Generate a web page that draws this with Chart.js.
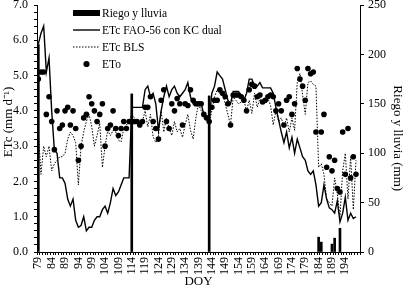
<!DOCTYPE html>
<html>
<head>
<meta charset="utf-8">
<script src="https://cdn.jsdelivr.net/npm/chart.js@4.4.1/dist/chart.umd.min.js"></script>
<style>
  html, body { margin: 0; padding: 0; background: #fff; }
  #wrap { width: 408px; height: 289px; }
</style>
</head>
<body>
<div id="wrap"><canvas id="etChart" width="408" height="289"></canvas></div>
<script>
// day of year for the daily series
const doy = [
  79, 80, 81, 82, 83, 84, 85, 86, 87, 88, 89, 90, 91, 92, 93, 94, 95, 96, 97, 98,
  99, 100, 101, 102, 103, 104, 105, 106, 107, 108, 109, 110, 111, 112, 113, 114, 115, 116, 117, 118,
  119, 120, 121, 122, 123, 124, 125, 126, 127, 128, 129, 130, 131, 132, 133, 134, 135, 136, 137, 138,
  139, 140, 141, 142, 143, 144, 145, 146, 147, 148, 149, 150, 151, 152, 153, 154, 155, 156, 157, 158,
  159, 160, 161, 162, 163, 164, 165, 166, 167, 168, 169, 170, 171, 172, 173, 174, 175, 176, 177, 178,
  179, 180, 181, 182, 183, 184, 185, 186, 187, 188, 189, 190, 191, 192, 193, 194, 195, 196, 197, 198
];

// ETc FAO-56 con KC dual (mm/d)
const etcFao = [
  5.9, 6.2, 6.4, 5.1, 5.5, 4.0, 2.9, 2.8, 2.1, 2.1, 1.95, 1.5, 1.3, 1.5, 0.9, 0.7, 0.75, 1.0, 0.6, 0.7,
  0.7, 0.9, 1.0, 1.0, 1.2, 1.3, 1.1, 1.4, 1.8, 1.6, 1.7, 1.9, 2.1, 2.1, 2.1, 4.1, 4.1, 4.1, 4.1, 4.1,
  4.6, 4.7, 4.4, 4.5, 4.2, 3.45, 4.0, 4.4, 4.7, 4.4, 4.6, 4.7, 4.5, 4.4, 4.5, 4.6, 4.8, 4.4, 4.2, 4.2,
  4.2, 4.2, 3.9, 3.8, 3.7, 4.5, 4.7, 5.1, 5.0, 4.9, 4.6, 4.3, 4.2, 4.55, 4.55, 4.55, 4.4, 4.3, 4.5, 4.9,
  4.9, 4.7, 4.7, 4.8, 4.65, 4.65, 4.65, 4.65, 4.5, 4.1, 3.75, 3.4, 3.1, 3.4, 2.95, 3.25, 2.8, 3.2, 2.95, 2.7,
  2.6, 2.3, 2.2, 2.3, 1.9, 1.3, 1.4, 1.9, 1.5, 1.25, 1.2, 1.1, 1.45, 0.85, 1.1, 1.55, 0.9, 1.1, 0.95, 1.0
];

// ETc BLS (mm/d)
const etcBls = [
  3.4, 2.2, 3.0, 2.7, 3.0, 2.3, 2.5, 2.6, 2.7, 2.7, 2.8, 3.2, 3.4, 3.3, 3.1, 1.9, 3.0, 3.4, 3.7, 3.9,
  3.55, 3.0, 3.3, 3.65, 2.4, 3.0, 3.45, 3.3, 3.45, 3.4, 3.17, 3.12, 3.5, 3.6, 3.7, 3.9, 3.8, 3.7, 3.6, 3.7,
  4.0, 3.55, 3.9, 3.27, 3.1, 3.3, 4.0, 3.4, 3.8, 3.5, 3.3, 3.7, 3.4, 3.5, 3.25, 3.6, 3.9, 3.45, 3.2, 3.8,
  4.2, 4.0, 3.93, 3.8, 3.65, 4.0, 4.4, 4.6, 4.5, 4.5, 4.2, 3.9, 3.6, 4.4, 4.3, 4.2, 4.25, 4.3, 4.0, 4.3,
  3.93, 4.5, 4.1, 4.35, 4.25, 4.2, 4.35, 4.15, 3.6, 4.0, 3.7, 3.8, 3.55, 3.8, 3.4, 3.8, 3.45, 4.8, 5.06, 4.45,
  3.9, 4.8, 4.85, 4.75, 4.7, 2.4, 2.5, 2.2, 1.5, 1.4, 1.3, 2.1, 1.65, 1.0, 2.3, 2.8, 1.5, 2.7, 1.2, 2.6
];

// ETo (mm/d)
const eto = [
  4.9, 5.1, 5.1, 3.9, 4.4, 3.7, 2.9, 4.0, 3.5, 3.6, 4.0, 4.1, 3.6, 4.0, 3.5, 2.6, 3.0, 3.8, 3.9, 4.4,
  4.2, 4.0, 3.7, 3.9, 4.2, 3.0, 3.5, 3.6, 4.0, 3.5, 3.3, 3.5, 3.7, 3.5, 3.7, 3.7, 3.7, 3.7, 3.6, 3.7,
  4.1, 4.1, 4.4, 3.7, 3.5, 3.2, 4.3, 4.6, 3.7, 3.5, 4.2, 4.0, 4.35, 4.2, 3.6, 4.2, 4.15, 4.6, 4.3, 4.2,
  4.2, 4.2, 3.9, 3.8, 3.7, 4.1, 4.3, 4.3, 4.6, 4.5, 4.4, 4.2, 3.6, 4.45, 4.45, 4.45, 4.4, 4.3, 4.0, 4.6,
  4.75, 4.7, 4.4, 4.45, 4.25, 4.3, 4.4, 4.45, 4.4, 4.0, 4.2, 4.0, 3.6, 4.3, 4.4, 3.9, 4.2, 5.2, 4.9, 4.7,
  4.3, 5.2, 5.05, 5.1, 3.4, null, 3.4, 3.9, 2.4, 2.7, 2.3, 2.6, 1.8, 1.7, 3.4, 2.2, 3.5, 2.1, 2.7, 2.2
];

// Riego y lluvia (mm)
const riegoDoy = [79, 114, 143, 184, 185, 189, 190, 192];
const riegoMm = [210, 160, 158, 15, 10, 8, 14, 24];

// labelled ticks
const xTickLabels = [79, 84, 89, 94, 99, 104, 109, 114, 119, 124, 129, 134, 139, 144, 149, 154, 159, 164, 169, 174, 179, 184, 189, 194];

const serif = "'Liberation Serif', 'Times New Roman', serif";
Chart.defaults.font.family = serif;
Chart.defaults.color = "#000";

const toPoints = (xs, ys) => xs.map((x, i) => ({ x: x, y: ys[i] }));

// legend drawn in the top-left corner, one item per row
const legendBox = {
  id: "legendBox",
  afterDraw(chart, args, opts) {
    const ctx = chart.ctx;
    ctx.save();
    ctx.font = "11.5px " + serif;
    ctx.textBaseline = "middle";
    ctx.fillStyle = "#000";
    ctx.strokeStyle = "#000";
    chart.data.datasets.forEach((ds, i) => {
      const y = opts.top + i * opts.rowGap;
      const x0 = opts.left, x1 = opts.left + opts.sample;
      if (ds.type === "bar") {
        ctx.fillRect(x0, y - 3, x1 - x0, 6);
      } else if (ds.showLine === false) {
        ctx.beginPath();
        ctx.arc((x0 + x1) / 2, y, ds.pointRadius + 0.3, 0, Math.PI * 2);
        ctx.fill();
      } else {
        ctx.lineWidth = ds.borderWidth;
        ctx.setLineDash(ds.borderDash || []);
        ctx.beginPath();
        ctx.moveTo(x0, y);
        ctx.lineTo(x1, y);
        ctx.stroke();
        ctx.setLineDash([]);
      }
      ctx.fillText(ds.label, x1 + 2, y + 1);
    });
    ctx.restore();
  }
};

const tickFont = { size: 12, family: serif };
const titleFont = { size: 13, family: serif };

new Chart(document.getElementById("etChart"), {
  data: {
    datasets: [
      {
        type: "bar",
        label: "Riego y lluvia",
        data: toPoints(riegoDoy, riegoMm),
        yAxisID: "y1",
        backgroundColor: "#000",
        barThickness: 2,
        order: 4
      },
      {
        type: "line",
        label: "ETc FAO-56 con KC dual",
        data: toPoints(doy, etcFao),
        yAxisID: "y",
        borderColor: "#000",
        borderWidth: 1.4,
        pointRadius: 0,
        tension: 0,
        fill: false,
        order: 2
      },
      {
        type: "line",
        label: "ETc BLS",
        data: toPoints(doy, etcBls),
        yAxisID: "y",
        borderColor: "#000",
        borderWidth: 1,
        borderDash: [1.5, 1.5],
        pointRadius: 0,
        tension: 0,
        fill: false,
        order: 3
      },
      {
        type: "line",
        label: "ETo",
        data: toPoints(doy, eto),
        yAxisID: "y",
        showLine: false,
        pointRadius: 2.8,
        pointBackgroundColor: "#000",
        pointBorderWidth: 0,
        order: 1
      }
    ]
  },
  options: {
    responsive: false,
    animation: false,
    layout: { padding: { top: 5, left: 0, right: 0, bottom: 0 } },
    plugins: {
      legend: { display: false },
      tooltip: { enabled: false },
      legendBox: { left: 73, top: 13, rowGap: 17, sample: 27 }
    },
    scales: {
      x: {
        type: "linear",
        position: "bottom",
        min: 79,
        max: 199,
        grid: { drawOnChartArea: false, tickLength: 3, tickColor: "#000" },
        border: { color: "#000", width: 1 },
        ticks: {
          stepSize: 1,
          autoSkip: false,
          minRotation: 90,
          maxRotation: 90,
          padding: 2,
          font: tickFont,
          callback: v => xTickLabels.includes(v) ? String(v) : ""
        },
        title: { display: true, text: "DOY", font: titleFont, padding: { top: 0, bottom: 0 } },
        afterFit(s) { s.height = 37; s.paddingLeft = 0; s.paddingRight = 0; }
      },
      y: {
        position: "left",
        min: 0,
        max: 7,
        grid: { drawOnChartArea: false, tickLength: 3, tickColor: "#000" },
        border: { color: "#000", width: 1 },
        ticks: {
          stepSize: 0.2,
          autoSkip: false,
          padding: 6,
          font: tickFont,
          callback: v => Math.abs(v - Math.round(v)) < 1e-6 ? Math.round(v).toFixed(1) : ""
        },
        // leading spaces nudge the rotated title a little towards the top
        title: { display: true, text: "    ETc (mm d\u207B\u00B9)", font: titleFont, padding: { top: 1, bottom: 0 } },
        afterFit(s) { s.width = 37; s.paddingTop = 0; s.paddingBottom = 0; }
      },
      y1: {
        position: "right",
        min: 0,
        max: 250,
        grid: { drawOnChartArea: false, tickLength: 4, tickColor: "#000" },
        border: { color: "#000", width: 1 },
        ticks: { stepSize: 50, padding: 4, font: tickFont },
        // leading spaces nudge the rotated title a little towards the bottom
        title: { display: true, text: "      Riego y lluvia (mm)", font: titleFont, padding: { top: 3, bottom: 0 } },
        afterFit(s) { s.width = 48; s.paddingTop = 0; s.paddingBottom = 0; }
      }
    }
  },
  plugins: [legendBox]
});
</script>
</body>
</html>
